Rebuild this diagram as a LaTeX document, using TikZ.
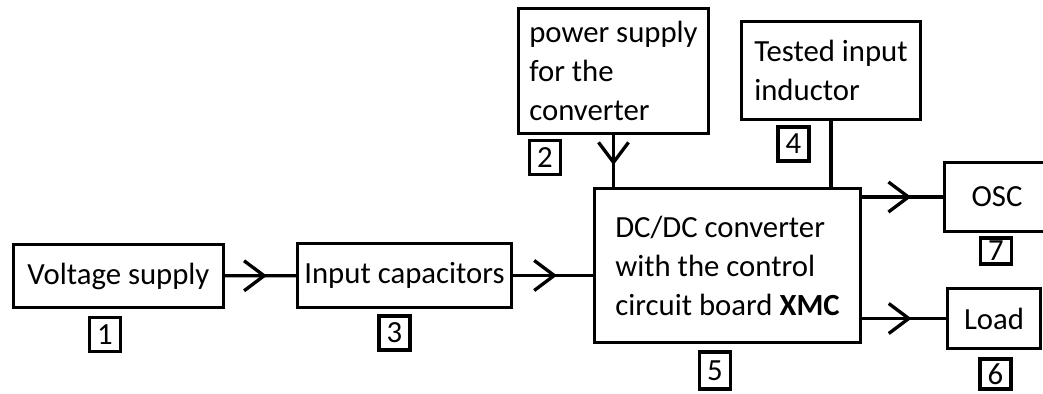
\documentclass[tikz,border=0pt]{standalone}
\usepackage{fontspec}
\setmainfont{Carlito}
\usetikzlibrary{positioning, arrows.meta, calc, decorations.markings}

\begin{document}
\begin{tikzpicture}[
  x=0.02cm, y=-0.02cm,
  font=\fontsize{17.5}{22.2}\selectfont,
  block/.style={draw, line width=1.9pt, inner sep=0pt, align=center},
  numbox/.style={draw, line width=1.9pt, inner sep=0pt, minimum width=0.62cm, minimum height=0.68cm},
  wire/.style={line width=1.9pt},
  flow/.style={wire, postaction={decorate},
               decoration={markings, mark=at position #1 with {\arrow{Straight Barb[length=4mm, width=6mm]}}}}
]
  \fill[white] (0,0) rectangle (1043,394);
  \useasboundingbox (0,0) rectangle (1043,394);

  \node[block, minimum width=4.2cm, minimum height=1.26cm] (vs) at (118.5,276) {Voltage supply};
  \node[block, minimum width=4.28cm, minimum height=1.28cm] (cap) at (404.5,275.5) {Input capacitors};
  \node[block, minimum width=5.32cm, minimum height=3.08cm, align=left] (dc) at (727.5,265.5)
       {DC/DC converter\\with the control\\circuit board \textbf{XMC}};
  \node[block, minimum width=3.8cm, minimum height=2.5cm, align=left] (ps) at (613.5,71)
       {power supply\\for the\\converter};
  \node[block, minimum width=3.58cm, minimum height=1.96cm, align=left] (ind) at (831,70.5)
       {Tested input\\inductor};
  \node[block, minimum width=2.11cm, minimum height=1.38cm] (osc) at (997,197) {OSC};
  \node[block, minimum width=1.86cm, minimum height=1.2cm] (load) at (994,318.5) {Load};

  \node[numbox] (n1) at (105,334.5) {1};
  \node[numbox] (n3) at (394.5,333) {3};
  \node[numbox, minimum height=0.74cm] (n5) at (715,370.5) {5};
  \node[numbox] (n2) at (545,157.5) {2};
  \node[numbox] (n4) at (793.5,144) {4};
  \node[numbox, minimum height=0.52cm] (n7) at (996,251) {7};
  \node[numbox, minimum height=0.6cm] (n6) at (995.5,374) {6};

  \draw[flow=0.59] (vs) -- (cap);
  \draw[flow=0.55] (cap.east) -- (cap.east -| dc.west);
  \draw[flow=0.58] (ps.south) -- (ps.south |- dc.north);
  \draw[wire] (ind.south) -- (ind.south |- dc.north);
  \draw[flow=0.61] (osc.west -| dc.east) -- (osc.west);
  \draw[flow=0.59] (load.west -| dc.east) -- (load.west);
\end{tikzpicture}
\end{document}
